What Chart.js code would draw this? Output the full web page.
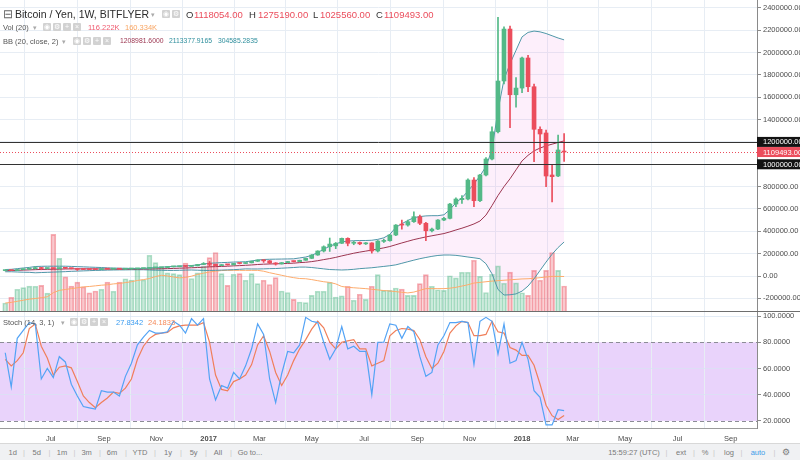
<!DOCTYPE html>
<html>
<head>
<meta charset="utf-8">
<script src="https://cdn.jsdelivr.net/npm/chart.js@4.4.1/dist/chart.umd.min.js"></script>
<style>
    body { margin: 0; background: #fff; font-family: "Liberation Sans", Arial, sans-serif; }
    #wrap { position: relative; width: 800px; height: 460px; overflow: hidden; }
    #c { position: absolute; left: 0; top: 0; }
    .t { position: absolute; white-space: nowrap; line-height: 1; color: #333; }
    .ic { position: absolute; width: 8px; height: 8px; background: #d2d2d2; color: #fff; font-size: 7px; line-height: 8px; text-align: center; border-radius: 1px; }
    .dd { position: absolute; font-size: 7px; line-height: 1; color: #aaa; }
    #bar { position: absolute; left: 0; top: 443px; width: 800px; height: 17px; background: #f0f1f3; border-top: 1px solid #d8d8d8; }
    #bar span { position: absolute; top: 5px; font-size: 7.5px; line-height: 1; color: #7a7a7a; transform: translateX(-50%); }
    #bar .sep { color: #c8c8c8; }
</style>
</head>
<body>
<div id="wrap">
    <canvas id="c" width="800" height="443"></canvas>

    <!-- legend: main series -->
    <span class="t" style="left:3px;top:8px;font-size:12px;color:#666">⊟</span>
    <span class="t" style="left:15px;top:9px;font-size:10.5px;color:#2b2b2b">Bitcoin / Yen, 1W, BITFLYER</span>
    <span class="dd" style="left:151px;top:11px">▾</span>
    <span class="ic" style="left:162px;top:10px">◉</span>
    <span class="ic" style="left:172px;top:10px">⚙</span>
    <span class="t" style="left:186px;top:10px;font-size:9.5px">O</span>
    <span class="t" style="left:194px;top:10px;font-size:9.5px;color:#eb4d5c">1118054.00</span>
    <span class="t" style="left:249px;top:10px;font-size:9.5px">H</span>
    <span class="t" style="left:258px;top:10px;font-size:9.5px;color:#eb4d5c">1275190.00</span>
    <span class="t" style="left:313px;top:10px;font-size:9.5px">L</span>
    <span class="t" style="left:320px;top:10px;font-size:9.5px;color:#eb4d5c">1025560.00</span>
    <span class="t" style="left:376px;top:10px;font-size:9.5px">C</span>
    <span class="t" style="left:384px;top:10px;font-size:9.5px;color:#eb4d5c">1109493.00</span>

    <!-- legend: volume -->
    <span class="t" style="left:3px;top:23.5px;font-size:7.5px;color:#555">Vol (20)</span>
    <span class="dd" style="left:33px;top:24px">▾</span>
    <span class="ic" style="left:43px;top:23px">◉</span>
    <span class="ic" style="left:53px;top:23px">⚙</span>
    <span class="ic" style="left:63px;top:23px">+</span>
    <span class="ic" style="left:73px;top:23px">×</span>
    <span class="t" style="left:88px;top:23.5px;font-size:7.5px;color:#ef5a6f">116.222K</span>
    <span class="t" style="left:125px;top:23.5px;font-size:7.5px;color:#f8a563">160.334K</span>

    <!-- legend: bollinger -->
    <span class="t" style="left:3px;top:37.5px;font-size:7.5px;color:#555">BB (20, close, 2)</span>
    <span class="dd" style="left:62px;top:38px">▾</span>
    <span class="ic" style="left:73px;top:37px">◉</span>
    <span class="ic" style="left:83px;top:37px">⚙</span>
    <span class="ic" style="left:93px;top:37px">+</span>
    <span class="ic" style="left:103px;top:37px">×</span>
    <span class="t" style="left:120px;top:38px;font-size:6.8px;color:#9b3550">1208981.6000</span>
    <span class="t" style="left:169px;top:38px;font-size:6.8px;color:#2f8f9d">2113377.9165</span>
    <span class="t" style="left:218px;top:38px;font-size:6.8px;color:#2f8f9d">304585.2835</span>

    <!-- legend: stochastic -->
    <span class="t" style="left:3px;top:318.5px;font-size:7.5px;color:#555">Stoch (14, 3, 1)</span>
    <span class="dd" style="left:61px;top:319px">▾</span>
    <span class="ic" style="left:70px;top:318px">◉</span>
    <span class="ic" style="left:80px;top:318px">⚙</span>
    <span class="ic" style="left:90px;top:318px">+</span>
    <span class="ic" style="left:100px;top:318px">×</span>
    <span class="t" style="left:116px;top:318.5px;font-size:7.5px;color:#3c9cf0">27.8342</span>
    <span class="t" style="left:148px;top:318.5px;font-size:7.5px;color:#f58a5a">24.1833</span>

    <div id="bar">
        <span style="left:12.7px">1d</span><span class="sep" style="left:24px">|</span>
        <span style="left:36.7px">5d</span><span class="sep" style="left:49.4px">|</span>
        <span style="left:62px">1m</span><span class="sep" style="left:74.4px">|</span>
        <span style="left:86.6px">3m</span><span class="sep" style="left:100px">|</span>
        <span style="left:112px">6m</span><span class="sep" style="left:126px">|</span>
        <span style="left:140px">YTD</span><span class="sep" style="left:155px">|</span>
        <span style="left:168px">1y</span><span class="sep" style="left:181px">|</span>
        <span style="left:193.6px">5y</span><span class="sep" style="left:206px">|</span>
        <span style="left:218px">All</span><span class="sep" style="left:231px">|</span>
        <span style="left:250px">Go to...</span>
        <span style="left:634px">15:59:27 (UTC)</span><span class="sep" style="left:666.5px">|</span>
        <span style="left:681px">ext</span><span class="sep" style="left:694px">|</span>
        <span style="left:705px">%</span><span class="sep" style="left:714px">|</span>
        <span style="left:729px">log</span><span class="sep" style="left:741.5px">|</span>
        <span style="left:758px;color:#3d9be9">auto</span><span class="sep" style="left:774.5px">|</span>
        <span style="left:786px;font-size:9px;top:3.5px">⚙</span>
    </div>
</div>

<script>
// weekly bars, first one is the week of Mon 9 May 2016
const firstWeek = "2016-05-09";

const open = [
    48500, 49500, 48500, 57000, 61000, 65000, 75000, 67000, 69000, 66000,
    70000, 69000, 66000, 59000, 58500, 58000, 57500, 62000, 61500, 62000,
    61000, 62500, 64000, 66500, 67500, 73000, 74500, 76000, 82000, 83000,
    87000, 86000, 91000, 103000, 112000, 105000, 93000, 102000, 100000, 113000,
    112000, 118000, 132000, 143000, 136000, 117000, 108000, 120000, 130000, 129000,
    141000, 158000, 188000, 224000, 262000, 270000, 293000, 337000, 293000, 300000,
    288000, 296000, 224000, 310000, 316000, 367000, 465000, 456000, 486000, 531000,
    472000, 405000, 420000, 501000, 516000, 644000, 683000, 689000, 859000, 674000,
    904000, 1047000, 1291000, 1745000, 2210000, 1622000, 1682000, 1951000, 1694000, 1313000,
    1280000, 904000, 895000, 1118054
];
const high = [
    50500, 51500, 58500, 62500, 66500, 82000, 78000, 71000, 71000, 71500,
    71500, 70000, 66500, 61000, 59500, 59000, 62500, 63000, 62500, 62500,
    63000, 64500, 67500, 68500, 74500, 77000, 77500, 83000, 84000, 88000,
    88500, 92000, 104000, 120000, 130000, 107000, 103000, 104000, 114000, 117000,
    119000, 134000, 145000, 147000, 140000, 120000, 121000, 131000, 134000, 142000,
    160000, 192000, 226000, 270000, 340000, 300000, 340000, 342000, 310000, 305000,
    300000, 298000, 318000, 330000, 372000, 460000, 500000, 500000, 575000, 545000,
    480000, 430000, 505000, 525000, 650000, 700000, 720000, 870000, 880000, 910000,
    1060000, 1336000, 2315000, 2230000, 2237000, 1775000, 1960000, 1975000, 1718000, 1336000,
    1306000, 990000, 1262000, 1275190
];
const low = [
    46500, 47500, 48000, 56000, 60000, 64000, 56000, 64000, 62000, 65000,
    67000, 63000, 50000, 57500, 56500, 56500, 57000, 60500, 60500, 60500,
    60500, 62000, 63500, 66000, 67000, 71500, 73000, 75500, 80500, 82500,
    84000, 85500, 90500, 102000, 85000, 86000, 92000, 97000, 99000, 108000,
    111000, 117000, 130000, 122000, 110000, 98000, 107000, 119000, 125000, 128000,
    140000, 156000, 185000, 215000, 220000, 245000, 290000, 270000, 280000, 280000,
    282000, 205000, 215000, 300000, 312000, 362000, 420000, 445000, 480000, 460000,
    316000, 395000, 415000, 495000, 512000, 620000, 650000, 680000, 620000, 665000,
    895000, 1040000, 1280000, 1720000, 1327000, 1512000, 1640000, 1650000, 1023000, 1112000,
    799000, 664000, 889000, 1025560
];
const close = [
    49500, 48500, 57000, 61000, 65000, 75000, 67000, 69000, 66000, 70000,
    69000, 66000, 59000, 58500, 58000, 57500, 62000, 61500, 62000, 61000,
    62500, 64000, 66500, 67500, 73000, 74500, 76000, 82000, 83000, 87000,
    86000, 91000, 103000, 112000, 105000, 93000, 102000, 100000, 113000, 112000,
    118000, 132000, 143000, 136000, 117000, 108000, 120000, 130000, 129000, 141000,
    158000, 188000, 224000, 262000, 286000, 293000, 337000, 293000, 300000, 288000,
    296000, 224000, 313000, 316000, 367000, 456000, 456000, 486000, 531000, 472000,
    405000, 420000, 501000, 516000, 644000, 689000, 695000, 859000, 674000, 904000,
    1047000, 1291000, 1745000, 2210000, 1622000, 1682000, 1951000, 1694000, 1313000, 1271000,
    895000, 889000, 1128000, 1109493
];

// volume and its 20 week average, in thousands
const volumeK = [
    37, 64, 101, 109, 116, 115, 119, 83, 356, 245,
    159, 116, 134, 112, 84, 93, 101, 134, 92, 134,
    150, 144, 199, 145, 259, 225, 202, 177, 174, 169,
    223, 151, 177, 209, 248, 272, 174, 119, 171, 174,
    143, 174, 127, 143, 123, 155, 93, 86, 54, 42,
    39, 73, 92, 92, 133, 65, 70, 115, 50, 78,
    54, 115, 169, 96, 96, 107, 102, 73, 73, 127,
    169, 115, 99, 96, 164, 154, 180, 180, 236, 161,
    86, 171, 210, 129, 181, 131, 85, 73, 189, 143,
    189, 272, 189, 116.222
];
const volumeMAK = [
    37, 40, 45, 50, 55, 58, 62, 66, 85, 96,
    100, 104, 108, 112, 114, 117, 120, 122, 126, 128,
    132, 136, 142, 146, 151, 160, 166, 163, 158, 154,
    156, 162, 170, 176, 181, 185, 188, 189, 189, 189,
    189, 189, 189, 185, 178, 172, 166, 160, 155, 151,
    150, 146, 141, 136, 133, 126, 114, 110, 108, 106,
    104, 101, 98, 95, 93, 90, 87, 84, 88, 96,
    104, 104, 104, 104, 106, 110, 116, 122, 130, 133,
    136, 139, 141, 143, 145, 147, 149, 150, 152, 155,
    158, 161, 161, 160.334
];

// Bollinger bands (20, close, 2), in thousands of yen
const bbUpperK = [
    58, 60, 66, 72, 77, 85, 87, 88, 88, 88,
    88, 86, 84, 82, 80, 78, 76, 73, 71, 70,
    69, 68, 68, 69, 72, 76, 79, 83, 86, 89,
    91, 94, 100, 108, 114, 117, 120, 122, 125, 126,
    128, 135, 143, 148, 150, 151, 152, 153, 154, 162,
    170, 185, 210, 240, 266, 288, 305, 313, 316, 318,
    318, 320, 328, 342, 372, 435, 468, 497, 522, 532,
    538, 540, 540, 548, 595, 655, 700, 760, 825, 895,
    980, 1130, 1480, 1760, 1900, 2020, 2140, 2180, 2192, 2185,
    2170, 2150, 2130, 2113.378
];
const bbBasisK = [
    48, 49, 51, 53, 55, 57, 59, 60, 61, 62,
    63, 64, 64, 64, 64, 64, 63, 63, 62, 62,
    62, 62, 62, 63, 63, 64, 65, 66, 68, 70,
    72, 74, 76, 79, 82, 84, 86, 88, 91, 93,
    96, 99, 103, 106, 108, 109, 111, 113, 115, 120,
    123, 129, 137, 147, 156, 167, 180, 192, 204, 214,
    223, 232, 242, 252, 264, 280, 296, 311, 326, 338,
    350, 360, 370, 380, 395, 412, 428, 446, 466, 492,
    545, 630, 720, 800, 870, 950, 1030, 1080, 1120, 1145,
    1165, 1180, 1195, 1208.982
];
const bbLowerK = [
    38, 38, 36, 34, 33, 29, 31, 33, 35, 37,
    39, 42, 44, 46, 48, 50, 51, 53, 54, 55,
    55, 56, 56, 56, 54, 52, 51, 50, 50, 51,
    53, 54, 52, 50, 50, 51, 53, 55, 57, 60,
    64, 63, 63, 64, 66, 67, 70, 73, 76, 80,
    80, 76, 70, 64, 58, 56, 54, 56, 60, 66,
    70, 74, 80, 86, 92, 100, 114, 128, 142, 155,
    166, 176, 184, 188, 188, 185, 178, 170, 163, 155,
    110, 20, -120, -170, -168, -160, -135, -90, -25, 50,
    125, 195, 255, 304.585
];

// Stochastic (14, 3, 1)
const stochK = [
    72, 46, 83, 89, 95, 94, 52, 60, 53, 69,
    65, 48, 39, 31, 30, 29, 43, 42, 42, 39,
    54, 64, 78, 84, 89, 87, 87, 88, 96, 93,
    87, 98, 93, 98, 52, 36, 47, 45, 57, 52,
    62, 75, 94, 86, 52, 34, 56, 73, 72, 78,
    99, 96, 95, 80, 67, 75, 92, 75, 77, 73,
    73, 40, 80, 80, 94, 93, 83, 92, 88, 69,
    54, 57, 78, 85, 95, 95, 96, 95, 63, 96,
    99, 96, 71, 94, 64, 66, 80, 67, 43, 38,
    17, 17, 28.5, 27.8342
];
const stochD = [
    67, 62, 66, 72, 90.5, 94, 77, 68, 55, 61,
    62, 60.5, 50, 39, 34, 30, 34, 37.5, 42, 41,
    45, 52, 67, 77, 83, 86, 87, 87.5, 91, 92.5,
    93, 93, 93, 95, 80, 55, 44, 43, 50, 52,
    55, 63, 78, 85, 73, 57, 47, 55, 66, 75,
    82, 90, 96, 91, 80, 75, 80, 81, 82, 75,
    75, 62, 64, 66, 85, 89, 90.5, 90, 89, 82,
    69, 60, 64, 73, 87, 92.5, 96, 95, 85, 85,
    86, 96, 88, 87, 76, 74, 70, 70, 62.5, 48,
    32, 24, 21, 24.1833
];

// axes
const tickDates = ["2016-07-01", "2016-09-01", "2016-11-01", "2017-01-01", "2017-03-01", "2017-05-01",
    "2017-07-01", "2017-09-01", "2017-11-01", "2018-01-01", "2018-03-01", "2018-05-01", "2018-07-01", "2018-09-01"];
const tickLabels = ["Jul", "Sep", "Nov", "2017", "Mar", "May", "Jul", "Sep", "Nov", "2018", "Mar", "May", "Jul", "Sep"];
const priceTicks = [-200000, 0, 200000, 400000, 600000, 800000, 1000000, 1200000,
    1400000, 1600000, 1800000, 2000000, 2200000, 2400000];
const stochTicks = [20, 40, 60, 80, 100];
const stochBand = [20, 80];
const levels = [1200000, 1000000];
const lastPrice = 1109493;


const WEEK = 7 * 24 * 3600 * 1000;
const weekOf = d => (Date.parse(d) - Date.parse(firstWeek)) / WEEK;

const GREEN = "#53b987", RED = "#eb4d5c";
const idx = open.map((_, i) => i);
const up = idx.map(i => close[i] >= open[i]);
const candleColor = up.map(u => u ? GREEN : RED);
const pts = (arr, k) => arr.map((v, i) => ({ x: i, y: v * k }));

const FONT = '"Liberation Sans", Arial, sans-serif';
Chart.defaults.font.family = FONT;
Chart.defaults.color = "#4c4c4c";

// lavender band of the stochastic, separator, level lines and price boxes
const panes = {
    id: "panes",
    beforeDraw(chart) {
        const { ctx, chartArea: a, scales } = chart;
        const s = scales.yStoch;
        const top = s.getPixelForValue(stochBand[1]);
        const bot = s.getPixelForValue(stochBand[0]);
        ctx.save();
        ctx.fillStyle = "rgb(233, 211, 251)";
        ctx.fillRect(a.left, top, a.right - a.left, bot - top);
        ctx.restore();
    },
    beforeDatasetsDraw(chart) {
        const { ctx, chartArea: a, scales } = chart;
        ctx.save();
        ctx.setLineDash([4, 3]);
        ctx.strokeStyle = "#8c8c96";
        ctx.lineWidth = 1;
        stochBand.forEach(v => {
            const py = Math.round(scales.yStoch.getPixelForValue(v)) + 0.5;
            ctx.beginPath();
            ctx.moveTo(a.left, py);
            ctx.lineTo(a.right, py);
            ctx.stroke();
        });
        ctx.restore();
    },
    afterDatasetsDraw(chart) {
        const { ctx, chartArea: a, scales: { y } } = chart;
        ctx.save();
        ctx.strokeStyle = "#333";
        ctx.lineWidth = 1;
        levels.forEach(v => {
            const py = Math.round(y.getPixelForValue(v)) + 0.5;
            ctx.beginPath();
            ctx.moveTo(a.left, py);
            ctx.lineTo(a.right, py);
            ctx.stroke();
        });
        ctx.strokeStyle = RED;
        ctx.setLineDash([1, 2]);
        const py = Math.round(y.getPixelForValue(lastPrice)) + 0.5;
        ctx.beginPath();
        ctx.moveTo(a.left, py);
        ctx.lineTo(a.right, py);
        ctx.stroke();
        ctx.restore();
    },
    afterDraw(chart) {
        const { ctx, scales: { y } } = chart;
        ctx.save();
        const sy = Math.round(y.bottom) + 0.5;
        ctx.strokeStyle = "#6e6e6e";
        ctx.beginPath();
        ctx.moveTo(0, sy);
        ctx.lineTo(chart.width, sy);
        ctx.stroke();

        ctx.font = "7.5px " + FONT;
        ctx.textBaseline = "middle";
        const boxes = [[levels[0], "#131313"], [lastPrice, RED], [levels[1], "#131313"]];
        boxes.forEach(([v, bg]) => {
            const py = y.getPixelForValue(v);
            ctx.fillStyle = bg;
            ctx.fillRect(y.left, py - 5, chart.width - y.left, 10);
            ctx.fillStyle = "#fff";
            ctx.fillText(v.toFixed(2), y.left + 6, py + 0.5);
        });
        ctx.restore();
    }
};

const rightAxis = s => { s.width = 43; s.paddingTop = 0; s.paddingBottom = 0; };

new Chart(document.getElementById("c"), {
    type: "bar",
    data: {
        datasets: [
            {
                type: "bar", label: "body", yAxisID: "y", order: 0,
                data: idx.map(i => ({ x: i, y: [open[i], close[i]] })),
                backgroundColor: candleColor, barThickness: 4, minBarLength: 1, grouped: false
            },
            {
                type: "bar", label: "wick", yAxisID: "y", order: 1,
                data: idx.map(i => ({ x: i, y: [low[i], high[i]] })),
                backgroundColor: candleColor, barThickness: 1, grouped: false
            },
            {
                type: "line", label: "BB upper", yAxisID: "y", order: 2,
                data: pts(bbUpperK, 1000), borderColor: "#4f97a8", borderWidth: 1,
                fill: "+2", backgroundColor: "rgba(243, 145, 230, 0.14)"
            },
            {
                type: "line", label: "BB basis", yAxisID: "y", order: 3,
                data: pts(bbBasisK, 1000), borderColor: "#9b3550", borderWidth: 1
            },
            {
                type: "line", label: "BB lower", yAxisID: "y", order: 4,
                data: pts(bbLowerK, 1000), borderColor: "#4f97a8", borderWidth: 1
            },
            {
                type: "line", label: "Vol MA", yAxisID: "yVol", order: 5,
                data: pts(volumeMAK, 1), borderColor: "#fdab6c", borderWidth: 1
            },
            {
                type: "bar", label: "Volume", yAxisID: "yVol", order: 6,
                data: pts(volumeK, 1),
                backgroundColor: up.map(u => u ? "rgba(83, 185, 135, 0.3)" : "rgba(235, 77, 92, 0.3)"),
                borderColor: up.map(u => u ? "rgba(83, 185, 135, 0.45)" : "rgba(235, 77, 92, 0.45)"),
                borderWidth: 1, barThickness: 5, grouped: false
            },
            {
                type: "line", label: "%K", yAxisID: "yStoch", order: 0,
                data: pts(stochK, 1), borderColor: "#53a3f5", borderWidth: 1.2
            },
            {
                type: "line", label: "%D", yAxisID: "yStoch", order: 0,
                data: pts(stochD, 1), borderColor: "#f07f5a", borderWidth: 1.2
            }
        ]
    },
    options: {
        responsive: false,
        animation: false,
        devicePixelRatio: 1,
        events: [],
        layout: { padding: 0 },
        elements: { line: { tension: 0 }, point: { radius: 0 } },
        plugins: {
            legend: { display: false },
            tooltip: { enabled: false },
            filler: { drawTime: "beforeDatasetsDraw" }
        },
        scales: {
            x: {
                type: "linear", min: -0.87, max: 125.1, offset: false,
                afterBuildTicks: s => { s.ticks = tickDates.map(d => ({ value: weekOf(d) })); },
                afterFit: s => { s.height = 15; s.paddingLeft = 0; s.paddingRight = 0; },
                ticks: {
                    autoSkip: false, maxRotation: 0, padding: 6,
                    callback: (v, i) => tickLabels[i],
                    font: c => ({ size: 7.5, weight: /^\d{4}$/.test(tickLabels[c.index]) ? "bold" : "normal" })
                },
                grid: { color: "#e7edf4", drawTicks: false },
                border: { color: "#9a9a9a" }
            },
            y: {
                type: "linear", position: "right", stack: "pane", stackWeight: 311,
                min: -313000, max: 2470000,
                afterBuildTicks: s => { s.ticks = priceTicks.map(v => ({ value: v })); },
                afterFit: rightAxis,
                ticks: { padding: 2, font: { size: 7.5 }, callback: v => v.toFixed(2) },
                grid: { color: "#e7edf4", tickColor: "#8a8a8a", tickLength: 4 },
                border: { color: "#8a8a8a" }
            },
            yStoch: {
                type: "linear", position: "right", stack: "pane", stackWeight: 117,
                min: 14.6, max: 103.85,
                afterBuildTicks: s => { s.ticks = stochTicks.map(v => ({ value: v })); },
                afterFit: rightAxis,
                ticks: { padding: 2, font: { size: 7.5 }, callback: v => v.toFixed(4) },
                grid: {
                    color: c => stochBand.includes(c.tick.value) ? "rgba(0,0,0,0)" : "rgba(215, 228, 242, 0.7)",
                    tickColor: "#8a8a8a", tickLength: 4
                },
                border: { color: "#8a8a8a" }
            },
            yVol: {
                type: "linear", position: "right", display: false,
                min: -544, max: 1446
            }
        }
    },
    plugins: [panes]
});
</script>
</body>
</html>
